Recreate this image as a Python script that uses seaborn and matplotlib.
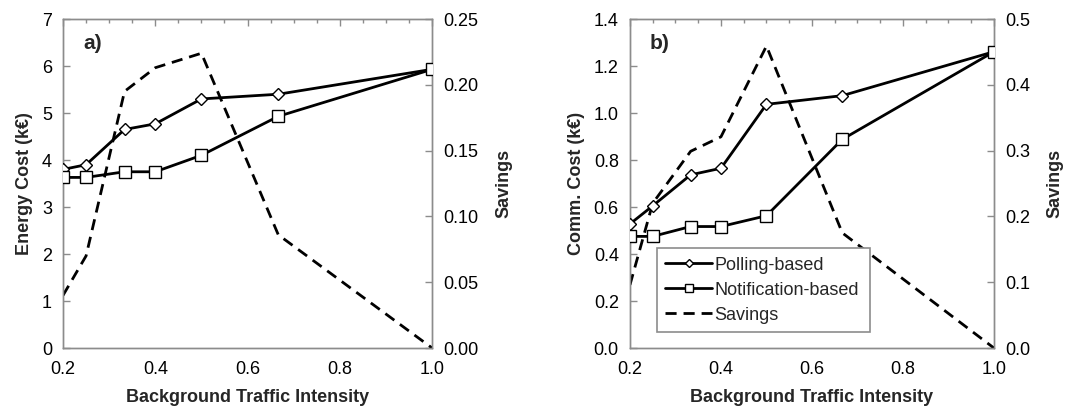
import matplotlib
matplotlib.use("Agg")
import matplotlib.pyplot as plt
import seaborn as sns
import numpy as np
from matplotlib.ticker import MultipleLocator, FormatStrFormatter

sns.set_theme(style="white")
plt.rcParams['font.family'] = ['Liberation Sans', 'DejaVu Sans']

intensity = [0.2, 0.25, 1/3, 0.4, 0.5, 2/3, 1.0]

energy_polling = [3.80, 3.90, 4.65, 4.77, 5.30, 5.40, 5.93]
energy_notification = [3.63, 3.63, 3.75, 3.75, 4.10, 4.93, 5.93]
energy_savings = [0.040, 0.070, 0.195, 0.213, 0.224, 0.086, 0.0]

comm_polling = [0.528, 0.605, 0.737, 0.765, 1.037, 1.074, 1.261]
comm_notification = [0.475, 0.475, 0.517, 0.517, 0.563, 0.888, 1.261]
comm_savings = [0.096, 0.220, 0.299, 0.321, 0.459, 0.175, 0.0]

SPINE = "#8c8c8c"
FS = 13

fig = plt.figure(figsize=(10.92, 4.12), dpi=100)
ax_a = fig.add_axes([0.0577, 0.1553, 0.338, 0.7985])
ax_b = fig.add_axes([0.5769, 0.1553, 0.3333, 0.7985])


def style_axes(ax, twin):
    for a in (ax, twin):
        for s in a.spines.values():
            s.set_color(SPINE)
            s.set_linewidth(1.0)
        a.tick_params(direction="in", colors=SPINE, labelcolor="black",
                      labelsize=FS, length=5, width=1)
        a.tick_params(which="minor", direction="in", colors=SPINE, length=3, width=1)
    ax.xaxis.set_major_locator(MultipleLocator(0.2))
    ax.xaxis.set_minor_locator(MultipleLocator(0.05))
    ax.xaxis.set_major_formatter(FormatStrFormatter("%.1f"))
    ax.tick_params(axis="x", which="both", top=True, pad=9)
    ax.tick_params(axis="y", pad=8)
    twin.tick_params(axis="y", pad=8)
    ax.set_xlim(0.2, 1.0)
    ax.set_xlabel("Background Traffic Intensity", fontsize=FS, fontweight="bold",
                  labelpad=8)
    twin.set_ylabel("Savings", fontsize=FS, fontweight="bold", labelpad=12)


def draw_panel(ax, polling, notification, savings, ylim, ystep, yfmt,
               slim, sstep, sfmt, ylabel, tag):
    sns.lineplot(x=intensity, y=polling, ax=ax, color="black", lw=2,
                 marker="D", markersize=6, markerfacecolor="white",
                 markeredgecolor="black", markeredgewidth=1,
                 label="Polling-based", zorder=4)
    sns.lineplot(x=intensity, y=notification, ax=ax, color="black", lw=2,
                 marker="s", markersize=9, markerfacecolor="white",
                 markeredgecolor="black", markeredgewidth=1,
                 label="Notification-based", zorder=4)
    twin = ax.twinx()
    sns.lineplot(x=intensity, y=savings, ax=twin, color="black", lw=2,
                 linestyle=(0, (4, 2.5)), label="Savings", zorder=3)
    ax.set_ylim(*ylim)
    ax.yaxis.set_major_locator(MultipleLocator(ystep))
    ax.yaxis.set_major_formatter(FormatStrFormatter(yfmt))
    twin.set_ylim(*slim)
    twin.yaxis.set_major_locator(MultipleLocator(sstep))
    twin.yaxis.set_major_formatter(FormatStrFormatter(sfmt))
    ax.set_ylabel(ylabel, fontsize=FS, fontweight="bold", labelpad=6)
    ax.text(0.054, 0.927, tag, transform=ax.transAxes, fontsize=15,
            fontweight="bold", va="center", ha="left")
    style_axes(ax, twin)
    ax.set_zorder(twin.get_zorder() + 1)
    ax.patch.set_visible(False)
    return twin


twin_a = draw_panel(ax_a, energy_polling, energy_notification, energy_savings,
                    (0, 7), 1, "%d", (0, 0.25), 0.05, "%.2f",
                    "Energy Cost (k€)", "a)")
twin_b = draw_panel(ax_b, comm_polling, comm_notification, comm_savings,
                    (0, 1.4), 0.2, "%.1f", (0, 0.5), 0.1, "%.1f",
                    "Comm. Cost (k€)", "b)")

ax_a.get_legend().remove()
twin_a.get_legend().remove()
twin_b.get_legend().remove()
h1, l1 = ax_b.get_legend_handles_labels()
h2, l2 = twin_b.get_legend_handles_labels()
ax_b.get_legend().remove()
leg = ax_b.legend(h1 + h2, l1 + l2, loc="lower left",
                  bbox_to_anchor=(0.074, 0.049, 0.586, 0.255), mode="expand",
                  fontsize=FS, frameon=True, fancybox=False, markerscale=0.7,
                  handlelength=2.6, handletextpad=0.15, borderpad=0.45,
                  labelspacing=0.45, borderaxespad=0)
leg.get_frame().set_edgecolor(SPINE)
leg.get_frame().set_linewidth(1.2)
leg.get_frame().set_facecolor("white")
leg.get_frame().set_alpha(1)
leg.set_zorder(10)

fig.savefig("out.png", dpi=100)
